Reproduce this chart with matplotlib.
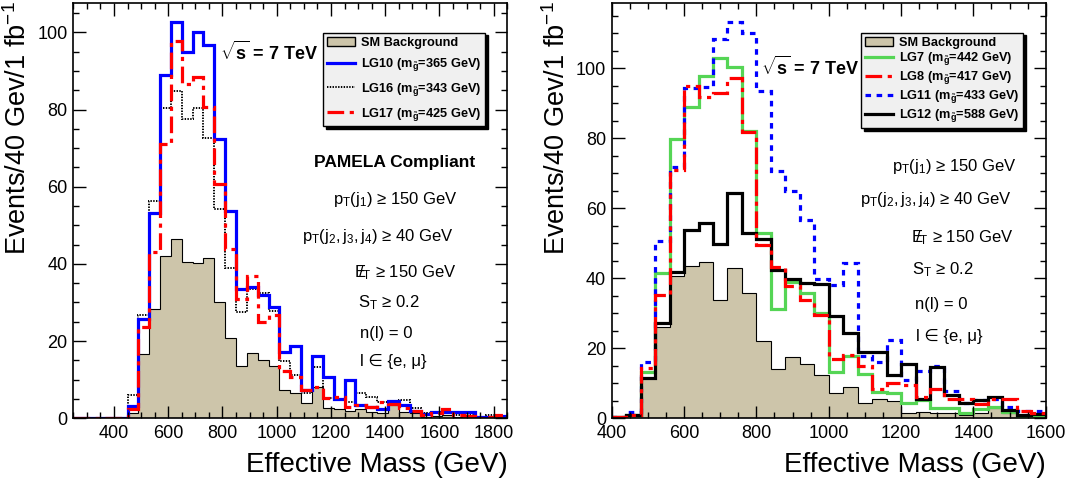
import numpy as np
import matplotlib
matplotlib.use("Agg")
import matplotlib.pyplot as plt
from matplotlib.lines import Line2D
from matplotlib.patches import Patch
from matplotlib.ticker import MultipleLocator

plt.rcParams['font.family'] = ['Liberation Sans', 'DejaVu Sans']
plt.rcParams['mathtext.fontset'] = 'custom'
plt.rcParams['mathtext.rm'] = 'Liberation Sans'
plt.rcParams['mathtext.it'] = 'Liberation Sans:italic'
plt.rcParams['mathtext.bf'] = 'Liberation Sans:bold'
plt.rcParams['lines.scale_dashes'] = False

# ---- left panel: 40 GeV bins from 250 to 1850 ----
left_edges = list(range(250, 1851, 40))
left_bg = [0, 0, 0, 0, 0,
           1.3, 16.7, 28.2, 42.1, 46.5, 40.5, 40.2, 41.6, 30.2, 20.9,
           13.6, 17.0, 15.1, 13.6, 7.2, 6.6, 3.9, 8.2, 2.6, 2.3,
           2.0, 2.3, 1.7, 1.3, 3.5, 1.7, 1.3, 0.4, 0.6, 0.9,
           0.4, 0.4, 0.2, 0.3, 0.3]
lg10 = [0, 0, 0, 0, 0,
        3.2, 25.7, 53.3, 89.0, 102.6, 94.8, 100.2, 96.7, 72.3, 53.8,
        33.6, 33.9, 32.0, 28.9, 17.1, 18.8, 7.2, 16.1, 10.6, 5.0,
        9.9, 3.5, 3.0, 2.5, 4.5, 3.5, 2.0, 1.0, 1.5, 1.5,
        1.5, 1.5, 0.3, 0.3, 0.6]
lg16 = [0, 0, 0, 0, 0,
        6.0, 26.8, 56.3, 80.3, 84.9, 77.5, 80.5, 72.5, 54.1, 39.0,
        27.6, 33.4, 32.4, 27.9, 14.9, 11.2, 6.6, 13.4, 5.2, 4.7,
        4.3, 6.5, 5.6, 4.3, 4.1, 4.7, 2.6, 1.3, 1.3, 1.5,
        0.9, 0.9, 0.4, 0.9, 0.4]
lg17 = [0, 0, 0, 0, 0,
        2.3, 23.6, 43.2, 71.1, 97.8, 86.5, 88.3, 80.7, 60.6, 43.8,
        30.8, 36.9, 25.0, 26.8, 12.3, 10.8, 7.3, 8.0, 5.2, 5.4,
        2.8, 3.5, 2.8, 4.3, 3.7, 2.6, 2.0, 0.9, 1.3, 2.3,
        0.9, 0.6, 0.0, 0.4, 0.9]

# ---- right panel: 40 GeV bins from 400 to 1600 ----
right_edges = list(range(400, 1601, 40))
right_bg = [0.3, 0.7, 11.4, 26.2, 40.7, 43.6, 44.7, 33.8, 43.0, 35.7,
            22.2, 14.1, 17.6, 15.5, 12.4, 7.1, 9.0, 4.5, 5.4, 5.0,
            1.4, 1.9, 1.6, 1.4, 1.0, 1.4, 2.9, 1.4, 0.5, 0.3]
lg7 = [0.3, 1.0, 13.3, 41.4, 79.7, 88.8, 97.8, 102.9, 100.2, 81.9,
       52.9, 31.1, 38.9, 35.7, 30.2, 13.3, 17.8, 12.6, 7.6, 7.1,
       4.3, 5.2, 2.9, 2.9, 1.4, 2.6, 3.3, 1.9, 0.7, 0.5]
lg8 = [0.3, 1.0, 14.3, 35.2, 70.8, 95.0, 91.7, 92.9, 97.2, 81.7,
       49.5, 43.3, 37.8, 33.8, 29.5, 17.0, 18.1, 14.8, 8.4, 10.2,
       9.5, 6.0, 8.3, 5.4, 5.4, 4.1, 5.4, 5.4, 2.2, 1.4]
lg11 = [0.3, 1.7, 16.2, 50.5, 71.9, 94.3, 94.6, 108.3, 113.3, 110.0,
        93.6, 70.5, 65.0, 56.7, 39.7, 38.1, 44.3, 17.8, 16.2, 22.4,
        11.0, 13.6, 14.8, 7.9, 4.3, 5.2, 5.4, 3.3, 2.2, 2.2]
lg12 = [0.3, 1.0, 11.4, 27.3, 41.9, 53.8, 55.9, 49.8, 64.3, 52.9,
        51.1, 42.4, 39.7, 38.6, 38.4, 29.2, 24.3, 18.8, 18.8, 12.4,
        15.5, 5.4, 14.6, 6.7, 4.3, 5.2, 6.0, 2.4, 1.0, 1.2]

left_labels = ['SM Background', r'LG10 (m$_{\tilde{\mathbf{g}}}$=365 GeV)',
               r'LG16 (m$_{\tilde{\mathbf{g}}}$=343 GeV)', r'LG17 (m$_{\tilde{\mathbf{g}}}$=425 GeV)']
right_labels = ['SM Background', r'LG7 (m$_{\tilde{\mathbf{g}}}$=442 GeV)',
                r'LG8 (m$_{\tilde{\mathbf{g}}}$=417 GeV)', r'LG11 (m$_{\tilde{\mathbf{g}}}$=433 GeV)',
                r'LG12 (m$_{\tilde{\mathbf{g}}}$=588 GeV)']

tan = '#cdc5aa'
green = '#55d555'
dashdot = (0, (12, 4, 3, 4))
finedot = (0, (1, 1))
shortdash = (0, (4, 4))

cuts = [r'$\mathregular{p_T(j_1)}$ ≥ 150 GeV',
        r'$\mathregular{p_T(j_2,j_3,j_4)}$ ≥ 40 GeV',
        r'$\mathregular{E\!\!\!/_T}$ ≥ 150 GeV',
        r'$\mathregular{S_T}$ ≥ 0.2',
        'n(l) = 0',
        'l ∈ {e, μ}']

fig = plt.figure(figsize=(10.73, 4.82), dpi=100)
axL = fig.add_axes([0.0683, 0.1322, 0.4045, 0.8616])
axR = fig.add_axes([0.5701, 0.1322, 0.4045, 0.8616])


def style(ax, xlim, ylim):
    ax.set_xlim(*xlim)
    ax.set_ylim(*ylim)
    ax.xaxis.set_major_locator(MultipleLocator(200))
    ax.xaxis.set_minor_locator(MultipleLocator(50))
    ax.yaxis.set_major_locator(MultipleLocator(20))
    ax.yaxis.set_minor_locator(MultipleLocator(5))
    ax.tick_params(which='both', direction='in', top=True, right=True, labelsize=13, width=1)
    ax.tick_params(which='major', length=9)
    ax.tick_params(which='minor', length=4.5)
    ax.tick_params(axis='x', pad=5)
    ax.tick_params(axis='y', pad=4)
    for s in ax.spines.values():
        s.set_linewidth(1.2)
    ax.set_xlabel('Effective Mass (GeV)', fontsize=20, loc='right')
    ax.xaxis.set_label_coords(1.0, -0.08)
    ax.set_ylabel(r'Events/40 Gev/1 fb$^{-1}$', fontsize=19.5, loc='top')
    ax.yaxis.set_label_coords(-0.094, 1.005)


def legend(ax, handles, labels, x, spacing):
    leg = ax.legend(handles, labels, loc='upper left', bbox_to_anchor=(x, 0.9285),
                    prop={'weight': 'bold', 'size': 9.2}, frameon=True, fancybox=False,
                    shadow={'color': 'black', 'alpha': 1.0}, edgecolor='black',
                    facecolor='#f0f0f0', framealpha=1, labelspacing=spacing,
                    handlelength=2.2, handletextpad=0.5, borderaxespad=0, borderpad=0.3)
    leg.get_frame().set_linewidth(1.0)
    return leg


# left panel
axL.stairs(left_bg, left_edges, fill=True, facecolor=tan, edgecolor='none')
axL.stairs(left_bg, left_edges, color='black', lw=0.8)
axL.stairs(lg16, left_edges, color='black', lw=1.4, linestyle=finedot)
axL.stairs(lg10, left_edges, color='#0000ff', lw=2.3)
axL.stairs(lg17, left_edges, color='#ff0000', lw=2.3, linestyle=dashdot)
style(axL, (250, 1850), (0, 107.6))

handlesL = [Patch(facecolor=tan, edgecolor='black'),
            Line2D([], [], color='#0000ff', lw=2.3),
            Line2D([], [], color='black', lw=1.4, linestyle=finedot),
            Line2D([], [], color='#ff0000', lw=2.3, linestyle=dashdot)]
legend(axL, handlesL, left_labels, 0.575, 0.6)

axL.text(0.451, 0.880, r'$\mathbf{\sqrt{s}}$ = 7 TeV', transform=axL.transAxes,
         fontsize=13, fontweight='bold', ha='center', va='center')
axL.text(0.741, 0.615, 'PAMELA Compliant', transform=axL.transAxes,
         fontsize=12.5, fontweight='bold', ha='center', va='center')
left_pos = [(0.743, 0.526), (0.701, 0.437), (0.765, 0.350), (0.727, 0.278), (0.720, 0.205), (0.737, 0.136)]
for txt, (x, y) in zip(cuts, left_pos):
    axL.text(x, y, txt, transform=axL.transAxes, fontsize=12, ha='center', va='center')

# right panel
axR.stairs(right_bg, right_edges, fill=True, facecolor=tan, edgecolor='none')
axR.stairs(right_bg, right_edges, color='black', lw=0.8)
axR.stairs(lg7, right_edges, color=green, lw=2.3)
axR.stairs(lg11, right_edges, color='#0000ff', lw=2.3, linestyle=shortdash)
axR.stairs(lg12, right_edges, color='black', lw=2.3)
axR.stairs(lg8, right_edges, color='#ff0000', lw=2.3, linestyle=dashdot)
style(axR, (400, 1600), (0, 118.6))

handlesR = [Patch(facecolor=tan, edgecolor='black'),
            Line2D([], [], color=green, lw=2.3),
            Line2D([], [], color='#ff0000', lw=2.3, linestyle=dashdot),
            Line2D([], [], color='#0000ff', lw=2.3, linestyle=shortdash),
            Line2D([], [], color='black', lw=2.3)]
legend(axR, handlesR, right_labels, 0.574, 0.15)

axR.text(0.457, 0.846, r'$\mathbf{\sqrt{s}}$ = 7 TeV', transform=axR.transAxes,
         fontsize=13, fontweight='bold', ha='center', va='center')
right_pos = [(0.789, 0.606), (0.746, 0.526), (0.807, 0.434), (0.763, 0.357), (0.759, 0.273), (0.777, 0.196)]
for txt, (x, y) in zip(cuts, right_pos):
    axR.text(x, y, txt, transform=axR.transAxes, fontsize=12, ha='center', va='center')

fig.savefig('out.png', dpi=100)
